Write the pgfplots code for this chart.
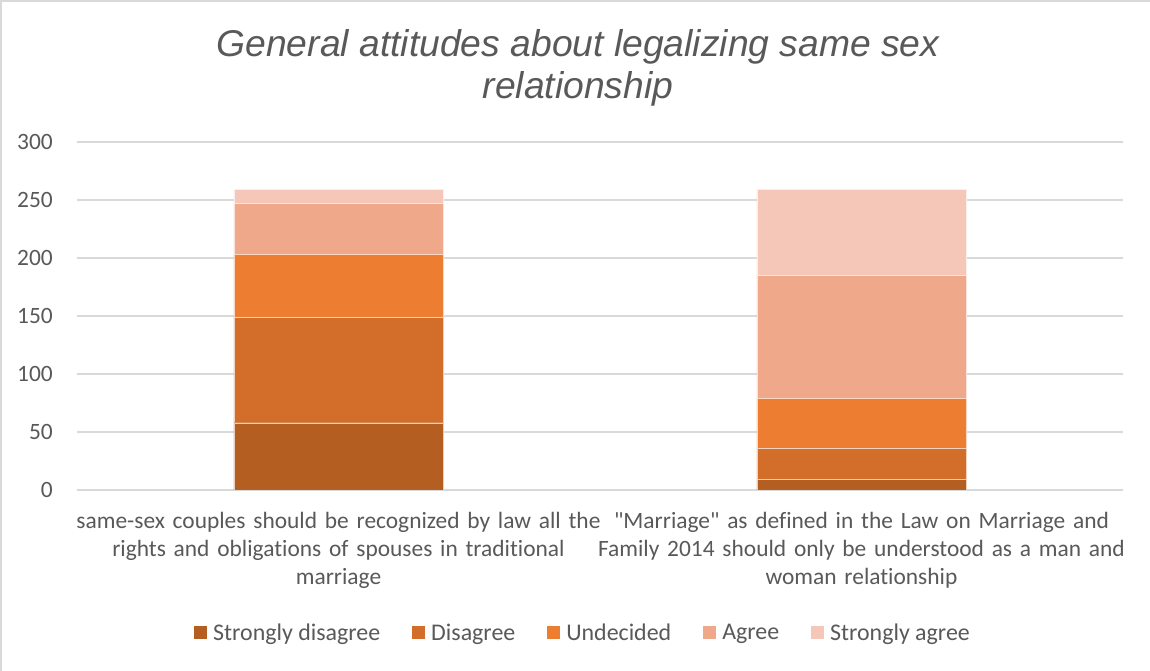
\documentclass[border=0pt]{standalone}
\usepackage{fontspec}
\setmainfont{Carlito}[Ligatures={TeXOff,NoCommon}]
\newfontfamily\titlefont{Liberation Sans}
\usepackage{pgfplots}
\pgfplotsset{compat=1.18}
\definecolor{cSD}{HTML}{B45E22}
\definecolor{cD}{HTML}{D26E2A}
\definecolor{cU}{HTML}{ED7D31}
\definecolor{cA}{HTML}{F0A88B}
\definecolor{cSA}{HTML}{F4C7B8}
\definecolor{tc}{HTML}{595959}
\definecolor{gridc}{HTML}{D9D9D9}
\begin{document}
\begin{tikzpicture}
\useasboundingbox (0,0) rectangle (1150bp,671bp);
\fill[white] (0,0) rectangle (1150bp,671bp);
\draw[gridc, line width=2bp] (1bp,0) -- (1bp,670bp) -- (1150bp,670bp);
\node[anchor=north, align=center, inner sep=0pt, text=tc,
      font=\titlefont\itshape\fontsize{37.4}{42}\selectfont]
  at (578bp,642bp) {General attitudes about legalizing same sex\\relationship};
\begin{axis}[
  at={(77bp,181bp)}, anchor=south west,
  scale only axis, width=1046bp, height=348bp,
  ybar stacked, bar width=209bp,
  xmin=-0.5, xmax=1.5, ymin=0, ymax=300,
  ytick={0,50,...,300},
  xtick={0,1},
  xticklabels={{same-sex couples should be recognized by law all the\\rights and obligations of spouses in traditional\\marriage},
               {"Marriage" as defined in the Law on Marriage and\\Family 2014 should only be understood as a man and\\woman relationship}},
  /pgf/number format/assume math mode=true,
  axis line style={draw=none},
  major tick length=0pt,
  ymajorgrids, grid style={draw=gridc, line width=1.5bp},
  tick label style={font=\fontsize{23.5}{28}\selectfont, text=tc},
  yticklabel style={anchor=east, inner sep=0pt, xshift=-24bp},
  xticklabel style={anchor=north, inner sep=0pt, text width=560bp, align=center, yshift=-22bp},
  legend columns=5,
  legend style={at={(0.4828,-0.4109)}, anchor=center, draw=none, fill=none,
    font=\fontsize{24}{28}\selectfont, text=tc,
    nodes={inner sep=0pt},
    /tikz/every odd column/.append style={column sep=6bp},
    /tikz/every even column/.append style={column sep=32bp}},
  legend image code/.code={\path[#1,draw=none] (0bp,-6.5bp) rectangle (13bp,6.5bp);},
]
\addplot[fill=cSD, draw=white!70!cSD, line width=0.4bp] coordinates {(0,58) (1,9)};
\addplot[fill=cD, draw=white!70!cD, line width=0.4bp] coordinates {(0,91) (1,27)};
\addplot[fill=cU, draw=white!70!cU, line width=0.4bp] coordinates {(0,54) (1,43)};
\addplot[fill=cA, draw=white!70!cA, line width=0.4bp] coordinates {(0,44) (1,106)};
\addplot[fill=cSA, draw=white!70!cSA, line width=0.4bp] coordinates {(0,12) (1,74)};
\legend{Strongly disagree, Disagree, Undecided, Agree, Strongly agree}
\end{axis}
\end{tikzpicture}
\end{document}
